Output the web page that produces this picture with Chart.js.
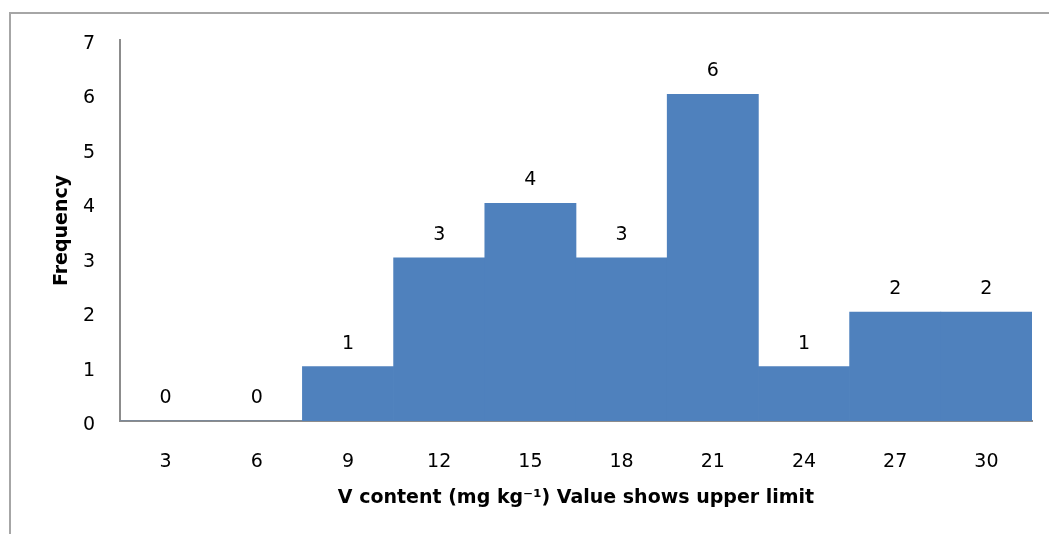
<!DOCTYPE html>
<html>
<head>
<meta charset="utf-8">
<script src="https://cdn.jsdelivr.net/npm/chart.js@4"></script>
<style>
  html, body { margin: 0; padding: 0; background: #fff; overflow: hidden; }
  #wrap { position: relative; width: 1049px; height: 534px; }
  #frame {
    position: absolute; left: 9px; top: 12px; width: 1100px; height: 600px;
    border: 2px solid #a6a6a6; pointer-events: none;
  }
  canvas { position: absolute; left: 0; top: 0; }
</style>
</head>
<body>
<div id="wrap">
  <canvas id="chart" width="1049" height="534"></canvas>
  <div id="frame"></div>
</div>
<script>
// upper limit of each V content class (mg kg-1)
const classes = ["3", "6", "9", "12", "15", "18", "21", "24", "27", "30"];
const frequency = [0, 0, 1, 3, 4, 3, 6, 1, 2, 2];
const yTicks = [0, 1, 2, 3, 4, 5, 6, 7];

const FONT = "'DejaVu Sans', sans-serif";

// ---------- value labels over the bars ----------
const barLabels = {
    id: "barLabels",
    afterDatasetsDraw(chart) {
        const ctx = chart.ctx;
        const meta = chart.getDatasetMeta(0);
        ctx.save();
        ctx.font = "19px " + FONT;
        ctx.fillStyle = "#000";
        ctx.textAlign = "center";
        ctx.textBaseline = "middle";
        meta.data.forEach((bar, i) => {
            ctx.fillText(String(frequency[i]), bar.x, bar.y - 23);
        });
        ctx.restore();
    }
};

Chart.defaults.font.family = FONT;
Chart.defaults.color = "#000";

new Chart(document.getElementById("chart"), {
    type: "bar",
    data: {
        labels: classes,
        datasets: [{
            data: frequency,
            backgroundColor: "#4f81bd",
            barPercentage: 1,
            categoryPercentage: 1
        }]
    },
    options: {
        responsive: false,
        animation: false,
        layout: { padding: { top: 40, right: 17, left: 0, bottom: 0 } },
        plugins: {
            legend: { display: false },
            tooltip: { enabled: false }
        },
        scales: {
            x: {
                grid: { display: false, drawTicks: false },
                border: { color: "#8c8c8c", width: 2 },
                ticks: { font: { size: 19 }, padding: 30, maxRotation: 0 },
                title: {
                    display: true,
                    text: "V content (mg kg\u207B\u00B9) Value shows upper limit",
                    font: { size: 19, weight: "bold" },
                    padding: { top: 0, bottom: 25 }
                },
                afterFit(scale) { scale.height = 113; }
            },
            y: {
                min: 0,
                max: 7,
                afterBuildTicks(scale) { scale.ticks = yTicks.map(v => ({ value: v })); },
                grid: { display: false, drawTicks: false },
                border: { color: "#8c8c8c", width: 2 },
                ticks: { font: { size: 19 }, padding: 25, labelOffset: 4 },
                title: {
                    display: true,
                    text: "Frequency",
                    font: { size: 19, weight: "bold" },
                    padding: { top: 51, bottom: 0 }
                },
                afterFit(scale) { scale.width = 120; }
            }
        }
    },
    plugins: [barLabels]
});
</script>
</body>
</html>
